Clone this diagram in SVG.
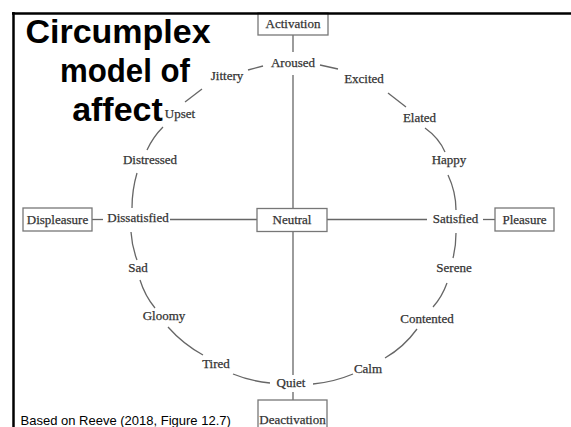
<svg xmlns="http://www.w3.org/2000/svg" width="571" height="427" viewBox="0 0 571 427">
<style>
.lbl{font-family:"Liberation Serif","DejaVu Serif",serif;font-size:13px;fill:#333;stroke:#333;stroke-width:0.25;text-anchor:middle}
.box{fill:#fff;stroke:#777;stroke-width:1.3}
.ln{fill:none;stroke:#666;stroke-width:1.3}
.title{font-family:"Liberation Sans",Arial,sans-serif;font-weight:bold;font-size:34px;fill:#000;text-anchor:middle}
.note{font-family:"Liberation Sans",Arial,sans-serif;font-size:13px;fill:#000}
</style>
<rect x="0" y="0" width="571" height="427" fill="#fff"/>
<g id="connectors">
<line class="ln" x1="293" y1="35" x2="293" y2="52"/>
<line class="ln" x1="293" y1="75" x2="293" y2="208"/>
<line class="ln" x1="293" y1="232" x2="293" y2="375"/>
<line class="ln" x1="293" y1="392" x2="293" y2="400"/>
<line class="ln" x1="92" y1="219.5" x2="103" y2="219.5"/>
<line class="ln" x1="170" y1="219.5" x2="257" y2="219.5"/>
<line class="ln" x1="327" y1="219.5" x2="427" y2="219.5"/>
<line class="ln" x1="483" y1="219.5" x2="495" y2="219.5"/>
<path class="ln" d="M248,70 L263,66"/>
<path class="ln" d="M320,65 L338,69"/>
<path class="ln" d="M388,93 L406,107"/>
<path class="ln" d="M425,128 Q439,138 445,152"/>
<path class="ln" d="M448,175 Q456,192 456,210"/>
<path class="ln" d="M456,233 Q456,246 453,258"/>
<path class="ln" d="M447,283 Q442,297 433,307"/>
<path class="ln" d="M417,329 Q404,347 385,358"/>
<path class="ln" d="M353,374 Q334,382 313,384"/>
<path class="ln" d="M270,383 Q250,381 233,374"/>
<path class="ln" d="M203,355 Q183,344 168,327"/>
<path class="ln" d="M155,308 Q145,296 140,280"/>
<path class="ln" d="M137,260 Q132,247 131,232"/>
<path class="ln" d="M132,208 Q132,190 137,173"/>
<path class="ln" d="M147,150 Q153,137 163,127"/>
<path class="ln" d="M185,102 L202,89"/>
</g>
<g id="activation"><rect class="box" x="258" y="13" width="70" height="22"/><text class="lbl" x="293" y="28">Activation</text></g>
<g id="neutral"><rect class="box" x="257" y="208.5" width="70" height="23"/><text class="lbl" x="292" y="224">Neutral</text></g>
<g id="displeasure"><rect class="box" x="23" y="208" width="69" height="23"/><text class="lbl" x="57.5" y="224">Displeasure</text></g>
<g id="pleasure"><rect class="box" x="495" y="208" width="59" height="23"/><text class="lbl" x="524.5" y="224">Pleasure</text></g>
<g id="deactivation"><rect class="box" x="258" y="400" width="69" height="32"/><text class="lbl" x="292.5" y="424">Deactivation</text></g>
<g id="aroused"><text class="lbl" x="293" y="67">Aroused</text></g>
<g id="excited"><text class="lbl" x="364" y="83">Excited</text></g>
<g id="elated"><text class="lbl" x="419.5" y="122">Elated</text></g>
<g id="happy"><text class="lbl" x="449" y="164">Happy</text></g>
<g id="satisfied"><text class="lbl" x="455.5" y="223">Satisfied</text></g>
<g id="serene"><text class="lbl" x="454" y="272">Serene</text></g>
<g id="contented"><text class="lbl" x="427" y="323">Contented</text></g>
<g id="calm"><text class="lbl" x="368" y="373">Calm</text></g>
<g id="quiet"><text class="lbl" x="291" y="387">Quiet</text></g>
<g id="tired"><text class="lbl" x="216" y="368">Tired</text></g>
<g id="gloomy"><text class="lbl" x="164" y="320">Gloomy</text></g>
<g id="sad"><text class="lbl" x="138" y="272">Sad</text></g>
<g id="dissatisfied"><text class="lbl" x="138" y="222">Dissatisfied</text></g>
<g id="distressed"><text class="lbl" x="150" y="164">Distressed</text></g>
<g id="upset"><text class="lbl" x="180" y="118">Upset</text></g>
<g id="jittery"><text class="lbl" x="227" y="80">Jittery</text></g>
<line x1="12" y1="13.5" x2="571" y2="13.5" stroke="#000" stroke-width="2.5"/>
<line x1="13.5" y1="12" x2="13.5" y2="427" stroke="#000" stroke-width="2.5"/>
<text class="title" x="118" y="43">Circumplex</text>
<text class="title" x="125" y="82" textLength="130" lengthAdjust="spacingAndGlyphs">model of</text>
<text class="title" x="117.5" y="121">affect</text>
<text class="note" x="20.5" y="425">Based on Reeve (2018, Figure 12.7)</text>
</svg>
